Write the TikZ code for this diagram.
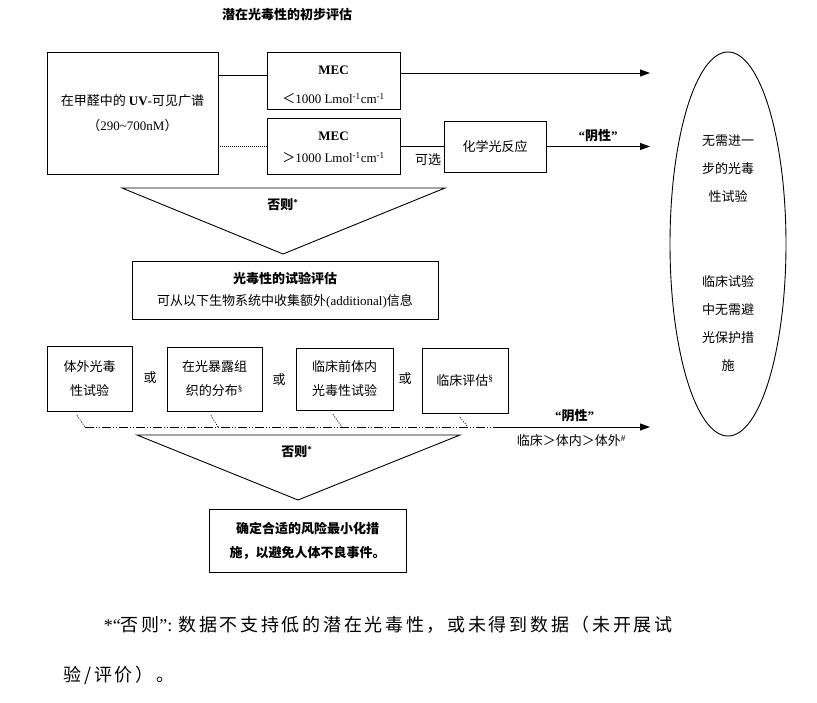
\documentclass[tikz,border=0pt]{standalone}
\usepackage{fontspec}
\setmainfont{Liberation Serif}
\newfontfamily\zh{Noto Sans CJK SC}
\usetikzlibrary{shapes.geometric, arrows.meta}

\tikzset{
    box/.style={draw, align=center, inner sep=0pt},
    arr/.style={-{Triangle[length=10pt, width=7pt]}},
    dashdotdot/.style={dash pattern=on 9pt off 2pt on 1pt off 2pt on 1pt off 2pt},
    tick/.style={dash pattern=on 1pt off 1.5pt},
    bold/.style={font=\zh\bfseries\fontsize{13}{24}\selectfont},
    notefont/.style={font=\zh\fontsize{18}{20}\selectfont\addfontfeature{LetterSpace=15}},
}

\begin{document}
\begin{tikzpicture}[x=1pt, y=-1pt, line width=0.9pt, font=\zh\fontsize{13}{24}\selectfont]

    \def\tipx{650}
    \useasboundingbox (0,0) rectangle (817,702);

    \node[bold] (title) at (287,15) {潜在光毒性的初步评估};

    % initial assessment
    \node[box, minimum width=171pt, minimum height=122pt] (spec) at (132.5,113)
        {在甲醛中的 {\rmfamily\bfseries UV}{\rmfamily -}可见广谱\\[1pt]（{\rmfamily 290\textasciitilde 700nM}）};
    \node[box, minimum width=133pt, minimum height=57pt] (mecLow) at (333.5,80.5)
        {\rule{0pt}{17pt}{\rmfamily\bfseries MEC}\\[5pt]＜{\rmfamily 1000 Lmol\textsuperscript{-1}cm\textsuperscript{-1}}};
    \node[box, minimum width=133pt, minimum height=56pt] (mecHigh) at (333.5,146)
        {\rule{0pt}{12pt}{\rmfamily\bfseries MEC}\\[-2pt]＞{\rmfamily 1000 Lmol\textsuperscript{-1}cm\textsuperscript{-1}}};
    \node[box, minimum width=102pt, minimum height=51pt] (chem) at (495,146.5) {化学光反应};

    \coordinate (endLow) at (\tipx,73);
    \coordinate (endChem) at (\tipx,146.5);

    \draw ([yshift=5.5pt]mecLow.west -| spec.east) -- ([yshift=5.5pt]mecLow.west);
    \draw[line width=0.8pt, dash pattern=on 1pt off 1pt] (mecHigh.west -| spec.east) -- (mecHigh.west);
    \draw[arr] (mecLow.east |- endLow) -- (endLow);
    \draw (mecHigh.east) -- (mecHigh.east -| chem.west);
    \node (optional) at (428,160) {可选};
    \draw[arr] (chem.east) -- (endChem)
        node[midway, above=1pt, font=\rmfamily\bfseries\fontsize{13}{16}\selectfont] (negChem) {``{\zh 阴性}''};

    % first funnel
    \draw (122,188) -- (445,188) -- (283,254) -- cycle;
    \node[bold] (else1) at (283,205) {否则\textsuperscript{\rmfamily *}};

    \node[box, minimum width=306pt, minimum height=58pt] (eval) at (285,290)
        {{\bfseries 光毒性的试验评估}\\[-2pt]可从以下生物系统中收集额外{\rmfamily (additional)}信息};

    % test systems
    \node[box, minimum width=85pt, minimum height=65pt] (vitro) at (89.5,378.5) {体外光毒\\性试验};
    \node[box, minimum width=95pt, minimum height=64pt] (tissue) at (214.5,379) {在光暴露组\\织的分布\textsuperscript{\rmfamily\S}};
    \node[box, minimum width=97pt, minimum height=62pt] (vivo) at (344.5,379) {临床前体内\\光毒性试验};
    \node[box, minimum width=86pt, minimum height=65pt] (clinic) at (465,380.5) {临床评估\textsuperscript{\rmfamily\S}};
    \node (or1) at (150,378) {或};
    \node (or2) at (279,380) {或};
    \node (or3) at (405,379) {或};

    \coordinate (j1) at (85,427);
    \coordinate (j2) at (218,427);
    \coordinate (j3) at (342,427);
    \coordinate (j4) at (468,427);
    \coordinate (solid) at (499,427);
    \coordinate (endTest) at (\tipx,427);

    \foreach \b/\dx/\j in {vitro/-12.5/j1, tissue/-3.5/j2, vivo/-11.5/j3, clinic/-5/j4}
        \draw[tick, line width=0.8pt] ([xshift=\dx pt, yshift=-4pt]\b.south) -- (\j);

    \draw[dashdotdot] (j1) -- (solid);
    \draw[arr] (solid) -- (endTest)
        node[midway, above=1pt, font=\rmfamily\bfseries\fontsize{13}{16}\selectfont] (negTest) {``{\zh 阴性}''}
        node[midway, below=4pt, xshift=-3pt] (order) {临床＞体内＞体外\textsuperscript{\rmfamily\#}};

    % second funnel
    \draw (137,435) -- (460,435) -- (298,500) -- cycle;
    \node[bold] (else2) at (297,452) {否则\textsuperscript{\rmfamily *}};

    \node[box, bold, minimum width=197pt, minimum height=63pt] (risk) at (307.5,540.5)
        {确定合适的风险最小化措\\施，以避免人体不良事件。};

    % outcome
    \node[draw, ellipse, minimum width=116pt, minimum height=384pt, inner sep=0pt] (noNeed) at (728,244) {};
    \node[align=center, font=\zh\fontsize{13}{28}\selectfont] (noNeedText) at (728,253)
        {无需进一\\步的光毒\\性试验\\[57pt]临床试验\\中无需避\\光保护措\\施};

    % footnote
    \node[anchor=west, notefont] (note1) at (100,625)
        {{\rmfamily *``}否则{\rmfamily '': }数据不支持低的潜在光毒性，或未得到数据（未开展试};
    \node[anchor=west, notefont] (note2) at (60,675) {验/评价）。};
\end{tikzpicture}
\end{document}
